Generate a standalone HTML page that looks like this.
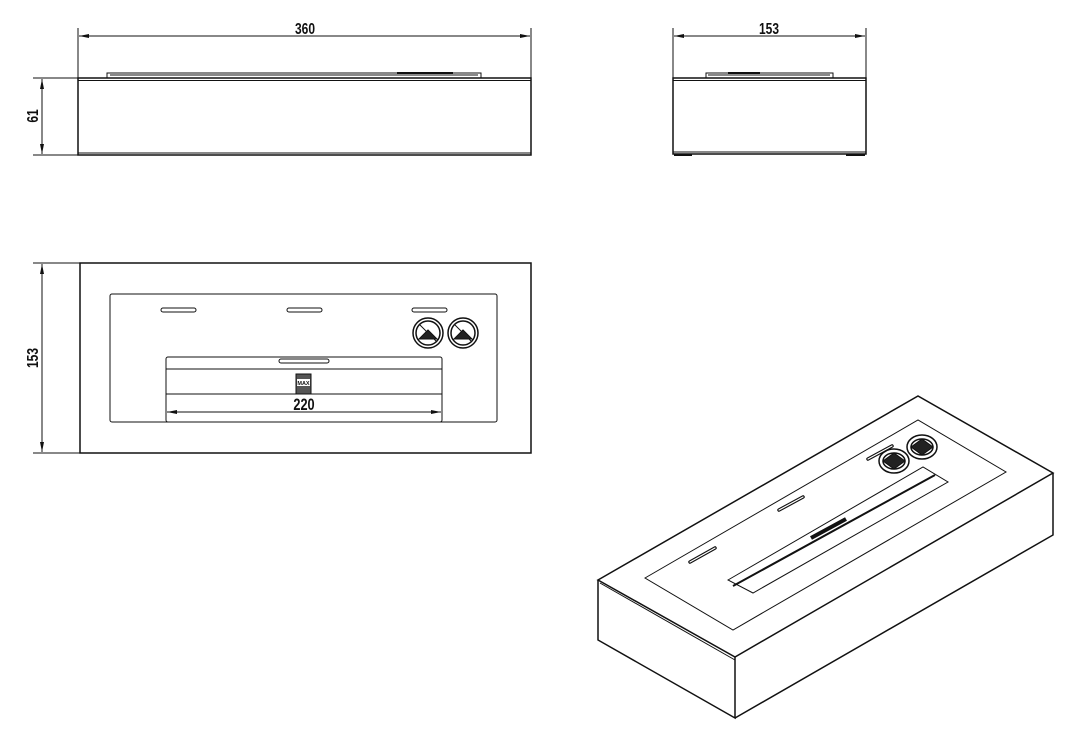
<!DOCTYPE html>
<html><head><style>body{margin:0;background:#fff}svg{display:block}text{font-family:"Liberation Sans",sans-serif;font-weight:bold;fill:#111}</style></head>
<body>
<svg width="1072" height="740" viewBox="0 0 1072 740" xmlns="http://www.w3.org/2000/svg">
<defs>
<marker id="a" viewBox="0 0 10 4" refX="10" refY="2" markerWidth="10" markerHeight="4" orient="auto-start-reverse" markerUnits="userSpaceOnUse"><path d="M0,0L10,2L0,4z" fill="#111"/></marker>
</defs>
<g stroke="#111" fill="none" stroke-width="1">
<!-- front view -->
<line x1="78" y1="28" x2="78" y2="78"/><line x1="531" y1="28" x2="531" y2="155"/>
<line x1="79" y1="36" x2="530" y2="36" marker-start="url(#a)" marker-end="url(#a)"/>
<rect x="78" y="78" width="453" height="77" stroke-width="1.5"/>
<line x1="78" y1="80.5" x2="531" y2="80.5"/>
<line x1="78" y1="153" x2="531" y2="153"/>
<rect x="107" y="73" width="374" height="5"/>
<line x1="110" y1="75" x2="478" y2="75"/>
<line x1="397" y1="73" x2="453" y2="73" stroke-width="2"/>
<line x1="33" y1="78" x2="78" y2="78"/><line x1="33" y1="155" x2="78" y2="155"/>
<line x1="42" y1="79" x2="42" y2="154" marker-start="url(#a)" marker-end="url(#a)"/>
<!-- side view -->
<line x1="673" y1="28" x2="673" y2="78"/><line x1="866" y1="28" x2="866" y2="78"/>
<line x1="674" y1="36" x2="865" y2="36" marker-start="url(#a)" marker-end="url(#a)"/>
<rect x="673" y="78" width="193" height="76" stroke-width="1.5"/>
<line x1="673" y1="80.5" x2="866" y2="80.5"/>
<line x1="673" y1="152" x2="866" y2="152"/>
<line x1="674" y1="155" x2="692" y2="155" stroke-width="2"/><line x1="846" y1="155" x2="865" y2="155" stroke-width="2"/>
<rect x="706" y="73" width="127" height="5"/>
<line x1="708" y1="75" x2="830" y2="75"/>
<line x1="728" y1="73" x2="760" y2="73" stroke-width="2"/>
<!-- top view -->
<line x1="33" y1="263" x2="80" y2="263"/><line x1="33" y1="453" x2="80" y2="453"/>
<line x1="42" y1="264" x2="42" y2="452" marker-start="url(#a)" marker-end="url(#a)"/>
<rect x="80" y="263" width="451" height="190" stroke-width="1.5"/>
<rect x="110" y="294" width="387" height="128" rx="2"/>
<rect x="166" y="357" width="276" height="65" rx="2"/>
<line x1="166" y1="369" x2="442" y2="369"/>
<line x1="166" y1="394" x2="442" y2="394"/>
<line x1="167" y1="412" x2="441" y2="412" marker-start="url(#a)" marker-end="url(#a)"/>
<rect x="279" y="359" width="50" height="4" rx="2"/>
<rect x="161" y="308" width="35" height="4" rx="2"/>
<rect x="287" y="308" width="35" height="4" rx="2"/>
<rect x="412" y="308" width="35" height="4" rx="2"/>
<rect x="296" y="374" width="15" height="20" fill="#555"/>
<rect x="297" y="379" width="13" height="7" fill="#fff" stroke="none"/>
<g stroke-width="1.5">
<circle cx="428" cy="333" r="15"/><circle cx="428" cy="333" r="12"/>
<circle cx="463" cy="333" r="15"/><circle cx="463" cy="333" r="12"/>
</g>
<line x1="419" y1="324" x2="437" y2="342"/><line x1="454" y1="324" x2="472" y2="342"/>
<path d="M419,339 L428,330 L437,339 Z" fill="#222"/>
<path d="M454,339 L463,330 L472,339 Z" fill="#222"/>
<!-- iso view -->
<g stroke-width="1.5">
<path d="M598,580 L918,396 L1053,473 L735,657 Z"/>
<path d="M598,580 L598,640 L735,718 L735,657"/>
<path d="M735,718 L1053,535 L1053,473"/>
</g>
<line x1="600" y1="583" x2="735" y2="660"/>
<path d="M645,578 L918,420 L1006,472 L733,630 Z"/>
<path d="M728,580 L923,467 L948,482 L753,593 Z"/>
<line x1="733" y1="586" x2="935" y2="475" stroke-width="2"/>
<g stroke-width="3.5" stroke-linecap="round">
<line x1="868" y1="459" x2="892" y2="446"/>
<line x1="779" y1="510" x2="803" y2="497"/>
<line x1="690" y1="562" x2="715" y2="548"/>
</g>
<g stroke="#fff" stroke-width="1.2" stroke-linecap="round">
<line x1="868" y1="459" x2="892" y2="446"/>
<line x1="779" y1="510" x2="803" y2="497"/>
<line x1="690" y1="562" x2="715" y2="548"/>
</g>
<line x1="811" y1="538" x2="846" y2="519" stroke-width="4"/>
<g stroke-width="1.5">
<ellipse cx="922" cy="447" rx="15" ry="12"/><ellipse cx="922" cy="447" rx="11" ry="8"/>
<ellipse cx="894" cy="461" rx="15" ry="12"/><ellipse cx="894" cy="461" rx="11" ry="8"/>
</g>
<path d="M911,447 L922,439 L933,447 L922,455 Z" fill="#222"/>
<path d="M883,461 L894,453 L905,461 L894,469 Z" fill="#222"/>
</g>
<text transform="translate(305,34) scale(0.75,1)" font-size="16" text-anchor="middle">360</text>
<text transform="translate(769,34) scale(0.75,1)" font-size="16" text-anchor="middle">153</text>
<text transform="translate(304,410) scale(0.75,1)" font-size="17" text-anchor="middle" font-weight="normal">220</text>
<text x="303.5" y="385" font-size="5.5" text-anchor="middle">MAX</text>
<text transform="translate(38,116) rotate(-90) scale(0.75,1)" font-size="16" text-anchor="middle">61</text>
<text transform="translate(38,358) rotate(-90) scale(0.75,1)" font-size="16" text-anchor="middle">153</text>
</svg>
</body></html>
